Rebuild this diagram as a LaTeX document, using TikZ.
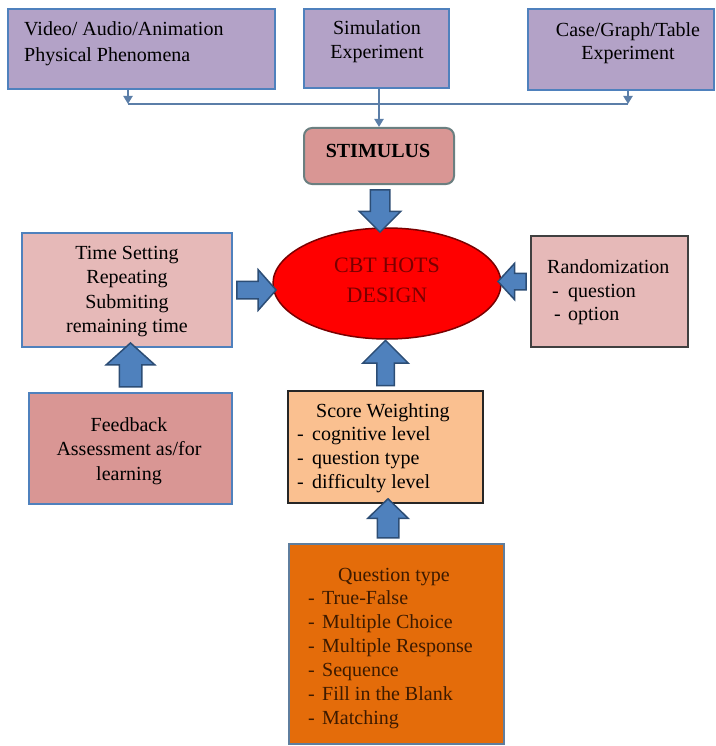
\documentclass[tikz,border=0pt]{standalone}
\usepackage{fontspec}
\setmainfont{Liberation Serif}
\usetikzlibrary{shapes.geometric,shapes.arrows,calc,arrows.meta}
\definecolor{purp}{HTML}{B3A2C7}
\definecolor{blu}{HTML}{4F81BD}
\definecolor{lnk}{HTML}{5B7EA8}
\definecolor{lpink}{HTML}{E6B9B8}
\definecolor{dpink}{HTML}{D99694}
\definecolor{peach}{HTML}{FAC090}
\definecolor{orng}{HTML}{E46C0A}
\definecolor{qbord}{HTML}{5F7E9E}
\definecolor{stbord}{HTML}{6B7F80}
\definecolor{arrfill}{HTML}{4F81BD}
\definecolor{arrdraw}{HTML}{2C4D75}
\definecolor{maroon}{HTML}{7A0000}
\definecolor{brn}{HTML}{3D1A00}
% #1 start, #2 end, #3 shaft half width, #4 head extend, #5 head width, #6 tip angle
\newcommand\blockarrow[6]{%
  \path let \p1=(#1), \p2=(#2), \n1={veclen(\x2-\x1,\y2-\y1)}, \n2={atan2(\y2-\y1,\x2-\x1)} in
    node[barr, minimum height=\n1, inner ysep=#3, minimum width=#5, single arrow head extend=#4,
         single arrow tip angle=#6, rotate=\n2] at ($(#1)!0.5!(#2)$) {};}
\begin{document}
\begin{tikzpicture}[x=1pt,y=-1pt,
  box/.style={draw, line width=2pt, inner sep=0pt, anchor=north west},
  txt/.style={inner sep=0pt, font=\fontsize{20}{24}\selectfont, text=black},
  conn/.style={draw=lnk, line width=2.5pt},
  connarr/.style={conn, -{Triangle[width=9pt,length=8pt]}},
  barr/.style={single arrow, draw=arrdraw, fill=arrfill, line width=1.5pt, inner xsep=0pt, outer sep=0pt}]
\useasboundingbox (0,0) rectangle (715,746);
% top boxes
\node[box, draw=blu, fill=purp, minimum width=267pt, minimum height=80pt] (tl) at (7,8) {};
\node[box, draw=blu, fill=purp, minimum width=145pt, minimum height=79pt] (tm) at (303,8) {};
\node[box, draw=blu, fill=purp, minimum width=186pt, minimum height=81pt] (tr) at (527,8) {};
\node[txt, anchor=base west] (tl1) at (24,36) {Video/ Audio/Animation};
\node[txt, anchor=base west] (tl2) at (24,62) {Physical Phenomena};
\node[txt, anchor=base] (tm1) at (377,35) {Simulation};
\node[txt, anchor=base] (tm2) at (377,59) {Experiment};
\node[txt, anchor=base] (tr1) at (628,37) {Case/Graph/Table};
\node[txt, anchor=base] (tr2) at (628,60) {Experiment};
% stimulus
\node[box, draw=stbord, fill=dpink, rounded corners=8pt, minimum width=150pt, minimum height=56pt] (stim) at (303,127) {};
\node[txt, anchor=base, font=\fontsize{20}{24}\selectfont\bfseries] (stimt) at (378,158) {STIMULUS};
% connectors
\coordinate (j1) at (128,104);
\coordinate (j3) at (628,104);
\draw[conn] (j1) -- (j3);
\draw[connarr] (tl.south -| j1) -- (j1);
\draw[connarr] (tr.south -| j3) -- (j3);
\draw[connarr] (stim.north |- tm.south) -- (stim.north);
% ellipse
\node[ellipse, draw=maroon, fill=red, line width=1.5pt, minimum width=228pt, minimum height=111pt, inner sep=0pt] (ell) at (387,283.5) {};
\node[txt, anchor=base, font=\fontsize{22}{26}\selectfont, text=maroon] (e1) at (387,272) {CBT HOTS};
\node[txt, anchor=base, font=\fontsize{22}{26}\selectfont, text=maroon] (e2) at (387,302) {DESIGN};
% time setting
\node[box, draw=blu, fill=lpink, minimum width=210pt, minimum height=114pt] (ts) at (21,232) {};
\node[txt, anchor=base] (ts1) at (127,259) {Time Setting};
\node[txt, anchor=base] (ts2) at (127,283) {Repeating};
\node[txt, anchor=base] (ts3) at (127,308) {Submiting};
\node[txt, anchor=base] (ts4) at (127,332) {remaining time};
% feedback
\node[box, draw=blu, fill=dpink, minimum width=203pt, minimum height=111pt] (fb) at (28,392) {};
\node[txt, anchor=base] (fb1) at (129,431) {Feedback};
\node[txt, anchor=base] (fb2) at (129,455) {Assessment as/for};
\node[txt, anchor=base] (fb3) at (129,480) {learning};
% randomization
\node[box, draw=black!75, fill=lpink, minimum width=157pt, minimum height=111pt] (rand) at (530,235) {};
\node[txt, anchor=base west] (r1) at (547,273) {Randomization};
\node[txt, anchor=base west] (r2) at (552,297) {\makebox[16pt][l]{-}question};
\node[txt, anchor=base west] (r3) at (554,320) {\makebox[14pt][l]{-}option};
% score weighting
\node[box, draw=black!85, fill=peach, minimum width=195pt, minimum height=112pt] (sw) at (287,390) {};
\node[txt, anchor=base west] (s1) at (316,417) {Score Weighting};
\node[txt, anchor=base west] (s2) at (297,440) {\makebox[15pt][l]{-}cognitive level};
\node[txt, anchor=base west] (s3) at (297,464) {\makebox[15pt][l]{-}question type};
\node[txt, anchor=base west] (s4) at (297,488) {\makebox[15pt][l]{-}difficulty level};
% question type
\node[box, draw=qbord, fill=orng, minimum width=215pt, minimum height=200pt] (qt) at (288,543) {};
\node[txt, anchor=base west, text=brn] (q0) at (338,581) {Question type};
\node[txt, anchor=base west, text=brn] (q1) at (308,604) {\makebox[14pt][l]{-}True-False};
\node[txt, anchor=base west, text=brn] (q2) at (308,628) {\makebox[14pt][l]{-}Multiple Choice};
\node[txt, anchor=base west, text=brn] (q3) at (308,652) {\makebox[14pt][l]{-}Multiple Response};
\node[txt, anchor=base west, text=brn] (q4) at (308,676) {\makebox[14pt][l]{-}Sequence};
\node[txt, anchor=base west, text=brn] (q5) at (308,700) {\makebox[14pt][l]{-}Fill in the Blank};
\node[txt, anchor=base west, text=brn] (q6) at (308,724) {\makebox[14pt][l]{-}Matching};
% block arrows
\coordinate (sta) at ([xshift=1pt]stim.south);
\coordinate (stb) at (sta |- ell.north);
\coordinate (ta) at (ts.east);
\coordinate (tb) at (ell.west |- ta);
\coordinate (ra) at ([yshift=10pt]rand.west);
\coordinate (rb) at (ell.east |- ra);
\coordinate (fa) at (fb.north);
\coordinate (fbb) at (fb.north |- ts.south);
\coordinate (sa) at (sw.north);
\coordinate (sb) at ([yshift=-5pt]sw.north |- ell.south);
\coordinate (qa) at ([xshift=-8.5pt]qt.north);
\coordinate (qb) at (qa |- sw.south);
\blockarrow{sta}{stb}{9pt}{11pt}{40pt}{90}
\blockarrow{ta}{tb}{8pt}{11.5pt}{39pt}{97}
\blockarrow{ra}{rb}{7.5pt}{10pt}{35pt}{95}
\blockarrow{fa}{fbb}{10.5pt}{13pt}{47pt}{96}
\blockarrow{sa}{sb}{8pt}{14pt}{44pt}{90}
\blockarrow{qa}{qb}{10pt}{9.5pt}{39pt}{92}
\end{tikzpicture}
\end{document}
